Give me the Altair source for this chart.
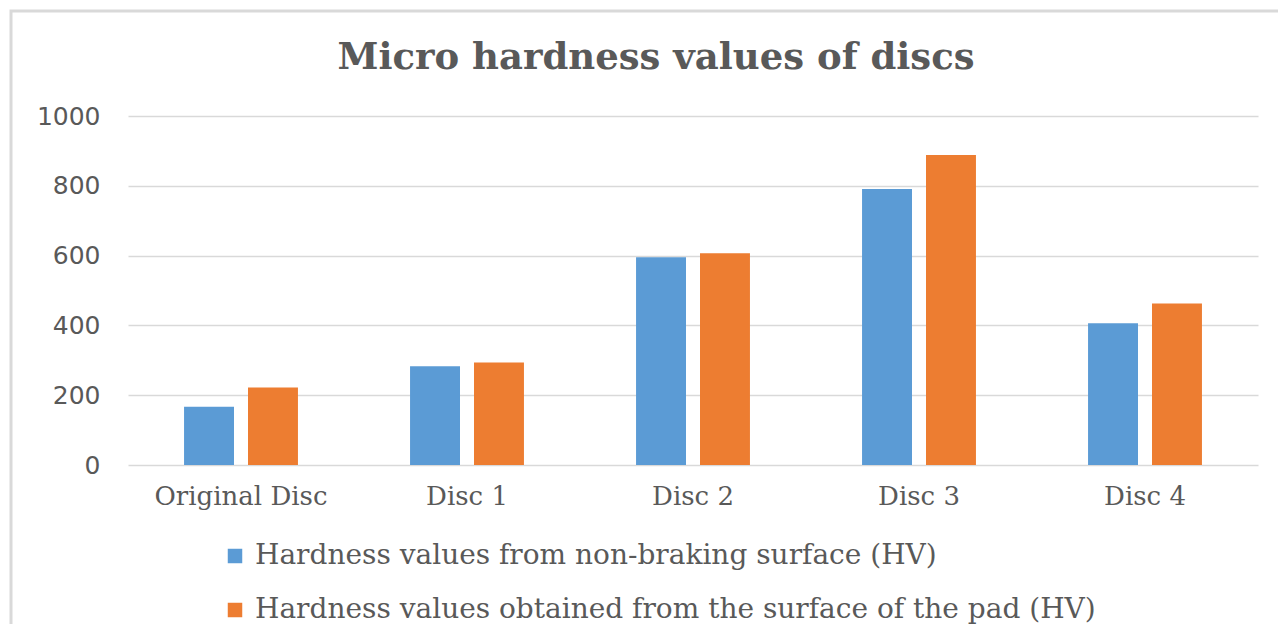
import altair as alt
import pandas as pd

title_text = "Micro hardness values of discs"
categories = ["Original Disc", "Disc 1", "Disc 2", "Disc 3", "Disc 4"]
series = [
    "Hardness values from non-braking surface (HV)",
    "Hardness values obtained from the surface of the pad (HV)",
]
non_braking = [167, 283, 595, 791, 406]
pad_surface = [222, 294, 607, 888, 463]
colors = ["#5B9BD5", "#ED7D31"]
y_ticks = [0, 200, 400, 600, 800, 1000]

rows = []
for c, a, b in zip(categories, non_braking, pad_surface):
    rows.append({"cat": c, "series": series[0], "value": a})
    rows.append({"cat": c, "series": series[1], "value": b})
df = pd.DataFrame(rows)

TXT = "#595959"

bars = alt.Chart(df).mark_bar().encode(
    x=alt.X(
        "cat:N",
        sort=categories,
        scale=alt.Scale(paddingInner=0.496, paddingOuter=0.248),
        axis=alt.Axis(
            title=None, labelAngle=0, domain=False, ticks=False,
            labelFont="DejaVu Serif", labelFontSize=26, labelColor=TXT,
            labelPadding=18,
        ),
    ),
    xOffset=alt.XOffset(
        "series:N", sort=series,
        scale=alt.Scale(paddingInner=0.219, paddingOuter=0),
    ),
    y=alt.Y(
        "value:Q",
        scale=alt.Scale(domain=[0, 1000], nice=False),
        axis=alt.Axis(
            title=None, values=y_ticks, format="d", domain=False, ticks=False,
            labelFont="DejaVu Sans", labelFontSize=25, labelColor=TXT,
            labelPadding=28, grid=True, gridColor="#d9d9d9", gridWidth=1.5,
        ),
    ),
    color=alt.Color(
        "series:N",
        sort=series,
        scale=alt.Scale(domain=series, range=colors),
        legend=alt.Legend(
            title=None, orient="none", legendX=93, legendY=426,
            direction="vertical", symbolType="square", symbolSize=210,
            symbolStrokeWidth=0, labelFont="DejaVu Serif", labelFontSize=28,
            labelColor=TXT, labelLimit=1100, rowPadding=26, labelOffset=6,
        ),
    ),
)

border = alt.Chart(pd.DataFrame({"a": [0]})).mark_rect(
    fill="transparent", stroke="#d9d9d9", strokeWidth=3
).encode(
    x=alt.value(-117), x2=alt.value(1300),
    y=alt.value(-105), y2=alt.value(700),
)

title = alt.Chart(pd.DataFrame({"t": [title_text]})).mark_text(
    font="DejaVu Serif", fontSize=37, fontWeight="bold", color=TXT,
    align="center", baseline="alphabetic",
).encode(
    text="t:N", x=alt.value(528), y=alt.value(-47),
)

chart = alt.layer(border, bars, title).properties(
    width=1130,
    height=349,
    background="white",
    autosize=alt.AutoSizeParams(type="none"),
    padding={"left": 120, "top": 108, "right": 20, "bottom": 159},
).configure_view(strokeWidth=0, stroke="transparent")

chart.save("out.html", embed_options={"renderer": "svg", "actions": False})
